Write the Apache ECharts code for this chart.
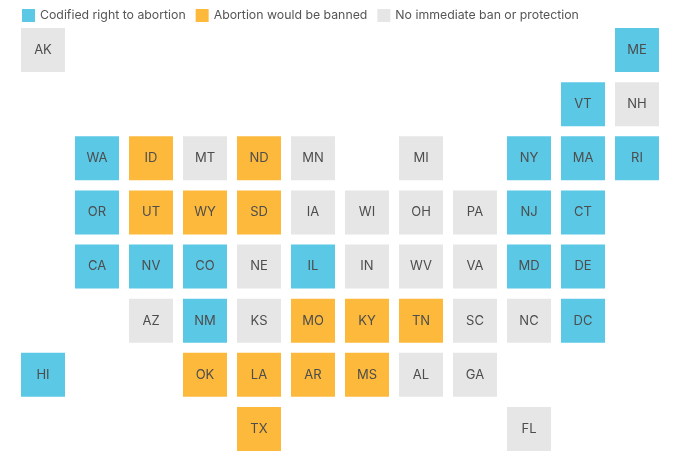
<!DOCTYPE html>
<html>
<head>
<meta charset="utf-8">
<script src="https://cdn.jsdelivr.net/npm/echarts@6/dist/echarts.min.js"></script>
<style>
  html, body { margin: 0; padding: 0; background: #fff; }
  #chart { width: 680px; height: 457px; }
</style>
</head>
<body>
<div id="chart"></div>
<script>
// 分类名称
const seriesNames = ['Codified right to abortion', 'Abortion would be banned', 'No immediate ban or protection'];

// 各州在网格中的位置 [列, 行, 州]
const codifiedStates = [
    [11, 0, 'ME'], [10, 1, 'VT'], [1, 2, 'WA'], [9, 2, 'NY'], [10, 2, 'MA'], [11, 2, 'RI'],
    [1, 3, 'OR'], [9, 3, 'NJ'], [10, 3, 'CT'], [1, 4, 'CA'], [2, 4, 'NV'], [3, 4, 'CO'],
    [5, 4, 'IL'], [9, 4, 'MD'], [10, 4, 'DE'], [3, 5, 'NM'], [10, 5, 'DC'], [0, 6, 'HI']
];
const bannedStates = [
    [2, 2, 'ID'], [4, 2, 'ND'], [2, 3, 'UT'], [3, 3, 'WY'], [4, 3, 'SD'], [5, 5, 'MO'],
    [6, 5, 'KY'], [7, 5, 'TN'], [3, 6, 'OK'], [4, 6, 'LA'], [5, 6, 'AR'], [6, 6, 'MS'],
    [4, 7, 'TX']
];
const neutralStates = [
    [0, 0, 'AK'], [11, 1, 'NH'], [3, 2, 'MT'], [5, 2, 'MN'], [7, 2, 'MI'], [5, 3, 'IA'],
    [6, 3, 'WI'], [7, 3, 'OH'], [8, 3, 'PA'], [4, 4, 'NE'], [6, 4, 'IN'], [7, 4, 'WV'],
    [8, 4, 'VA'], [2, 5, 'AZ'], [4, 5, 'KS'], [8, 5, 'SC'], [9, 5, 'NC'], [7, 6, 'AL'],
    [8, 6, 'GA'], [9, 7, 'FL']
];

const colors = ['#5bc8e6', '#fdb93c', '#e6e6e6'];

function initTileChart() {
    let chart = echarts.init(document.getElementById('chart'));

    function makeSeries(name, data) {
        return {
            name: name,
            type: 'scatter',
            symbol: 'rect',
            symbolSize: 44,
            data: data,
            itemStyle: { opacity: 1 },
            label: {
                show: true,
                position: 'inside',
                formatter: p => p.data[2],
                color: '#4d4d4d',
                fontSize: 13,
                fontFamily: 'Inter'
            },
            emphasis: { scale: false }
        };
    }

    let option = {
        animation: false,
        color: colors,
        textStyle: { fontFamily: 'Inter' },
        legend: {
            left: 17,
            top: 4,
            icon: 'rect',
            itemWidth: 13,
            itemHeight: 13,
            itemGap: 10,
            textStyle: { color: '#555', fontSize: 12.3, fontFamily: 'Inter' },
            data: seriesNames
        },
        grid: { left: 16, right: 16, top: 23, bottom: 1 },
        xAxis: { type: 'value', min: -0.5, max: 11.5, show: false },
        yAxis: { type: 'value', min: -0.5, max: 7.5, inverse: true, show: false },
        series: [
            makeSeries(seriesNames[0], codifiedStates),
            makeSeries(seriesNames[1], bannedStates),
            makeSeries(seriesNames[2], neutralStates)
        ]
    };

    chart.setOption(option);
}

initTileChart();
</script>
</body>
</html>
